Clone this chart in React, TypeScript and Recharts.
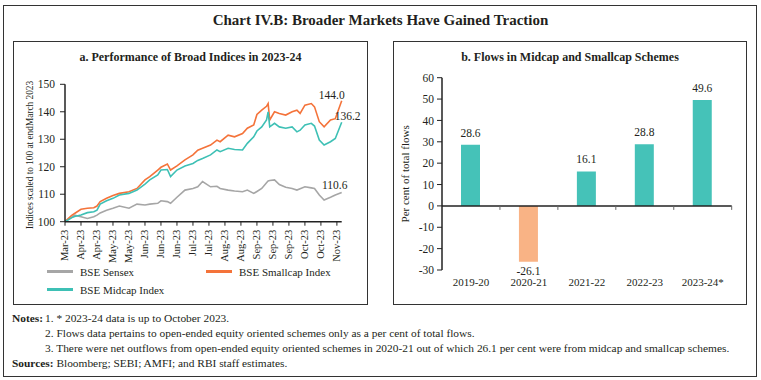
import { LineChart, Line, XAxis, YAxis, BarChart, Bar, Cell, LabelList, ReferenceLine } from 'recharts'

const SERIF = '"Liberation Serif", "DejaVu Serif", serif'
const INK = '#231f20'

// panel a: index levels (end-March 2023 = 100), x in trading days since end-March
const days = [0, 4, 6, 10, 14, 18, 20, 22, 26, 30, 34, 40, 45, 50, 53, 58, 60, 64, 66, 70, 75, 80, 83, 86, 91, 95, 97, 102, 106, 111, 114, 118, 120, 123, 126, 127, 128, 131, 134, 138, 142, 145, 147, 150, 154, 156, 159, 162, 166, 169, 173]
const smallcap = [100, 102.2, 103, 104.5, 104.9, 105.1, 105.7, 107.3, 108.5, 109.5, 110.3, 110.9, 112.1, 115.2, 116.4, 118.8, 119.8, 121, 118.8, 120.3, 122.5, 124.3, 126, 126.7, 127.9, 129.7, 129.1, 131.5, 130.9, 132.1, 134, 135.2, 139, 140.6, 142, 143, 137, 140, 139.4, 138.8, 140, 140.6, 139.4, 142.4, 143, 141.8, 136.4, 134.5, 137, 137.5, 144]
const midcap = [100, 101.4, 101.9, 102.4, 103.3, 103.6, 104.2, 106.4, 107.6, 108.5, 109.7, 110.3, 111.5, 113.7, 115.2, 117, 118.8, 119, 116.4, 118.8, 120.3, 121.2, 122.3, 123, 124.3, 126.1, 125.5, 126.7, 126.3, 126.1, 128.5, 130.9, 133, 134.5, 137, 140, 134.5, 135.8, 134.5, 134, 134.5, 132.7, 133.3, 135.2, 135.8, 134.8, 129.7, 127.9, 129.1, 130.3, 136.2]
const sensex = [100, 101.5, 102.4, 101.8, 101.2, 101.8, 102.4, 103.2, 104.2, 104.9, 105.7, 104.9, 106.4, 106.1, 106.4, 106.7, 107.6, 107.3, 106.7, 108.9, 111.5, 112.1, 112.7, 114.6, 112.7, 112.9, 112.1, 111.5, 111.2, 110.9, 111.5, 110.3, 111, 112.1, 114.2, 114.8, 115, 115.2, 113.5, 112.5, 112.1, 111.5, 112, 112.7, 112.3, 112.1, 109.7, 107.9, 108.9, 109.7, 110.6]
const dayTicks = [0, 10, 20, 30, 40, 50, 60, 70, 80, 90, 100, 110, 120, 130, 140, 150, 160, 170]
const dayLabels = ['Mar-23', 'Apr-23', 'Apr-23', 'May-23', 'May-23', 'Jun-23', 'Jun-23', 'Jun-23', 'Jul-23', 'Jul-23', 'Aug-23', 'Aug-23', 'Sep-23', 'Sep-23', 'Sep-23', 'Oct-23', 'Oct-23', 'Nov-23']
const indexTicks = [100, 110, 120, 130, 140, 150]

// panel b: flows into midcap + smallcap schemes, per cent of total flows
const years = ['2019-20', '2020-21', '2021-22', '2022-23', '2023-24*']
const flows = [28.6, -26.1, 16.1, 28.8, 49.6]
const flowTicks = [-30, -20, -10, 0, 10, 20, 30, 40, 50, 60]

const indexData = days.map((day, i) => ({ day, sensex: sensex[i], smallcap: smallcap[i], midcap: midcap[i] }))
const flowData = years.map((year, i) => ({ year, value: flows[i] }))

const series = [
    { key: 'sensex', name: 'BSE Sensex', color: '#a6a6a6', end: { dx: -7, dy: -4, anchor: 'middle' } },
    { key: 'smallcap', name: 'BSE Smallcap Index', color: '#f4733a', end: { dx: 3, dy: -2, anchor: 'end' } },
    { key: 'midcap', name: 'BSE Midcap Index', color: '#3ec0b5', end: { dx: -7, dy: -2, anchor: 'start' } },
]

const tickFont = { fontFamily: SERIF, fontSize: 11.5, fill: INK }

const DayTick = ({ x, y, payload }: any) => (
    <text x={x} y={y} transform={`rotate(-90 ${x} ${y})`} textAnchor="end" dominantBaseline="central"
        style={{ fontFamily: SERIF, fontSize: 10.5, fill: INK }}>
        {dayLabels[dayTicks.indexOf(payload.value)]}
    </text>
)

const endLabel = (end: any) => (p: any) => {
    if (p.index !== days.length - 1) return null
    return (
        <text x={p.x + end.dx} y={p.y + end.dy} textAnchor={end.anchor} style={{ fontFamily: SERIF, fontSize: 11.5, fill: INK }}>
            {Number(p.value).toFixed(1)}
        </text>
    )
}

const FlowLabel = (p: any) => {
    const top = Math.min(p.y, p.y + p.height)
    const bottom = Math.max(p.y, p.y + p.height)
    const ty = p.value >= 0 ? top - 8 : bottom + 13
    return (
        <text x={p.x + p.width / 2} y={ty} textAnchor="middle" style={{ fontFamily: SERIF, fontSize: 11.5, fill: INK }}>
            {Number(p.value).toFixed(1)}
        </text>
    )
}

// zero line with small ticks at the category boundaries
const ZeroLine = (p: any) => {
    const step = (p.x2 - p.x1) / years.length
    return (
        <g>
            <line x1={p.x1} x2={p.x2} y1={p.y1} y2={p.y1} stroke="#222" strokeWidth={1.5} />
            {years.map((y, i) => (
                <line key={y} x1={p.x1 + step * (i + 1)} x2={p.x1 + step * (i + 1)} y1={p.y1} y2={p.y1 + 4} stroke="#666" />
            ))}
        </g>
    )
}

export default function App() {
    return (
        <div style={{ position: 'absolute', left: 0, top: 0, width: 761, height: 380, background: '#fff', fontFamily: SERIF, color: INK }}>
            <div style={{ position: 'absolute', left: 3, top: 5, width: 752, height: 370, border: '1.5px solid #333' }} />
            <div style={{ position: 'absolute', left: 0, top: 12, width: 761, textAlign: 'center', fontSize: 15, fontWeight: 700 }}>
                Chart IV.B: Broader Markets Have Gained Traction
            </div>

            {/* panel a */}
            <div style={{ position: 'absolute', left: 13, top: 41, width: 353, height: 262, border: '1.2px solid #333' }} />
            <div style={{ position: 'absolute', left: 13, top: 50, width: 355, textAlign: 'center', fontSize: 12, fontWeight: 700 }}>
                a. Performance of Broad Indices in 2023-24
            </div>
            <div style={{ position: 'absolute', left: 13, top: 70 }}>
                <LineChart width={350} height={230} data={indexData} margin={{ top: 14.3, right: 21.3, left: 0, bottom: 33.3 }}>
                    <XAxis dataKey="day" type="number" domain={[0, 173]} ticks={dayTicks} interval={0} height={45}
                        tick={<DayTick />} tickSize={4} tickMargin={4} stroke="#222" axisLine={{ stroke: '#222', strokeWidth: 1.5 }} />
                    <YAxis domain={[100, 150]} ticks={indexTicks} width={52} tickSize={5} tickMargin={5} tick={tickFont}
                        stroke="#222" axisLine={{ stroke: '#222', strokeWidth: 1.5 }}
                        label={{ value: 'Indices scaled to 100 at endMarch 2023', angle: -90, position: 'center', dx: -9, dy: 2, style: { fontFamily: SERIF, fontSize: 9.3, fill: INK } }} />
                    {series.map(s => (
                        <Line key={s.key} dataKey={s.key} name={s.name} stroke={s.color} strokeWidth={1.6} dot={false} type="linear" isAnimationActive={false}>
                            <LabelList dataKey={s.key} content={endLabel(s.end)} />
                        </Line>
                    ))}
                </LineChart>
            </div>
            <div style={{ position: 'absolute', left: 47, top: 264, display: 'grid', gridTemplateColumns: '159px auto', rowGap: 3, fontSize: 11 }}>
                {series.map(s => (
                    <div key={s.key} style={{ display: 'flex', alignItems: 'center', gap: 7, height: 15 }}>
                        <span style={{ width: 26, height: 2.5, background: s.color, display: 'inline-block' }} />
                        <span>{s.name}</span>
                    </div>
                ))}
            </div>

            {/* panel b */}
            <div style={{ position: 'absolute', left: 393, top: 41, width: 352, height: 262, border: '1.2px solid #333' }} />
            <div style={{ position: 'absolute', left: 393, top: 50, width: 354, textAlign: 'center', fontSize: 12, fontWeight: 700 }}>
                b. Flows in Midcap and Smallcap Schemes
            </div>
            <div style={{ position: 'absolute', left: 393, top: 65 }}>
                <BarChart width={350} height={240} data={flowData} margin={{ top: 12.7, right: 11.3, left: 0, bottom: 10 }} barSize={19}>
                    <XAxis dataKey="year" height={25} axisLine={false} tickLine={false} interval={0}
                        tick={{ fontFamily: SERIF, fontSize: 11, fill: INK }} />
                    <YAxis domain={[-30, 60]} ticks={flowTicks} width={49} tickSize={5} tickMargin={3} tick={tickFont}
                        stroke="#222" axisLine={{ stroke: '#222', strokeWidth: 1.5 }}
                        label={{ value: 'Per cent of total flows', angle: -90, position: 'center', dx: -12, style: { fontFamily: SERIF, fontSize: 11, fill: INK } }} />
                    <Bar dataKey="value" isAnimationActive={false}>
                        {flowData.map(d => <Cell key={d.year} fill={d.value < 0 ? '#f9b385' : '#45c2b8'} />)}
                        <LabelList dataKey="value" content={FlowLabel} />
                    </Bar>
                    <ReferenceLine y={0} shape={ZeroLine} />
                </BarChart>
            </div>

            {/* notes */}
            <div style={{ position: 'absolute', left: 12, top: 311, fontSize: 11.4, lineHeight: '15px' }}>
                <div><b style={{ display: 'inline-block', width: 33 }}>Notes:</b>1. * 2023-24 data is up to October 2023.</div>
                <div style={{ paddingLeft: 33 }}>2. Flows data pertains to open-ended equity oriented schemes only as a per cent of total flows.</div>
                <div style={{ paddingLeft: 33 }}>3. There were net outflows from open-ended equity oriented schemes in 2020-21 out of which 26.1 per cent were from midcap and smallcap schemes.</div>
                <div><b>Sources:</b> Bloomberg; SEBI; AMFI; and RBI staff estimates.</div>
            </div>
        </div>
    )
}
